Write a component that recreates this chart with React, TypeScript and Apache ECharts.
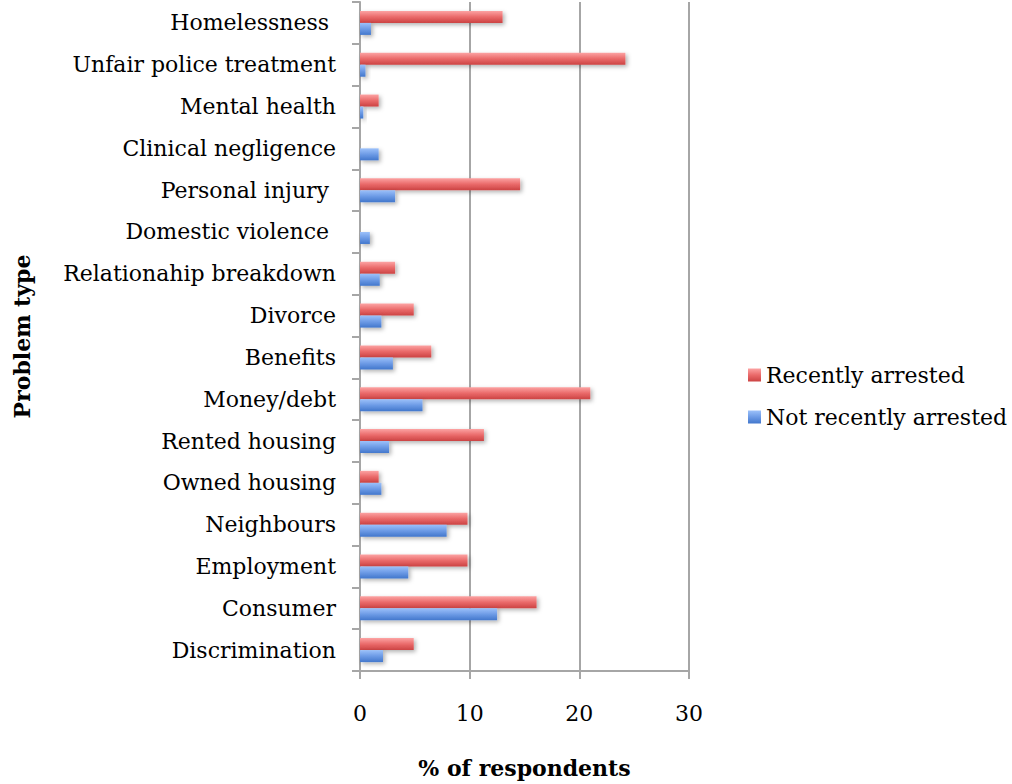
import React, { useEffect, useRef } from "react";
import * as echarts from "echarts";

const categories = [
  "Homelessness ",
  "Unfair police treatment",
  "Mental health",
  "Clinical negligence",
  "Personal injury ",
  "Domestic violence ",
  "Relationahip breakdown",
  "Divorce",
  "Benefits",
  "Money/debt",
  "Rented housing",
  "Owned housing",
  "Neighbours",
  "Employment",
  "Consumer",
  "Discrimination",
];
const recentlyArrested = [13, 24.2, 1.7, 0, 14.6, 0, 3.2, 4.9, 6.5, 21, 11.3, 1.7, 9.8, 9.8, 16.1, 4.9];
const notRecentlyArrested = [1.0, 0.5, 0.3, 1.7, 3.2, 0.9, 1.8, 1.95, 3.0, 5.7, 2.65, 1.95, 7.9, 4.4, 12.5, 2.1];
const xTicks = [0, 10, 20, 30];

const FONT = "DejaVu Serif";
const FS = 22;

export default function App() {
  const ref = useRef<HTMLDivElement>(null);
  useEffect(() => {
    if (!ref.current) return;
    const chart = echarts.init(ref.current, undefined, { renderer: "svg" });
    const redGrad = new echarts.graphic.LinearGradient(0, 0, 0, 1, [
      { offset: 0, color: "#fca3a3" },
      { offset: 0.5, color: "#ea6a6a" },
      { offset: 1, color: "#cc4343" },
    ]);
    const blueGrad = new echarts.graphic.LinearGradient(0, 0, 0, 1, [
      { offset: 0, color: "#9cc1fa" },
      { offset: 0.5, color: "#6d9be6" },
      { offset: 1, color: "#4277cc" },
    ]);
    chart.setOption({
      animation: false,
      backgroundColor: "#ffffff",
      grid: { left: 360, top: 2, right: 323, bottom: 109, containLabel: false },
      legend: {
        orient: "vertical",
        left: 743,
        top: 359,
        itemWidth: 13,
        itemHeight: 13,
        itemGap: 20,
        icon: "rect",
        textStyle: { fontFamily: FONT, fontSize: FS, color: "#000" },
        data: ["Recently arrested", "Not recently arrested"],
      },
      xAxis: {
        type: "value",
        min: 0,
        max: 30,
        interval: 10,
        name: "% of respondents",
        nameLocation: "middle",
        nameGap: 86,
        nameTextStyle: { fontFamily: FONT, fontSize: FS, fontWeight: "bold", color: "#000" },
        axisLine: { show: true, lineStyle: { color: "#a6a6a6", width: 2 } },
        axisTick: { show: true, length: 8, lineStyle: { color: "#a6a6a6", width: 2 } },
        axisLabel: {
          fontFamily: FONT,
          fontSize: FS,
          color: "#000",
          margin: 31,
          formatter: (v: number) => (xTicks.includes(v) ? String(v) : ""),
        },
        splitLine: { show: true, lineStyle: { color: "#a6a6a6", width: 2 } },
      },
      yAxis: {
        type: "category",
        inverse: true,
        data: categories,
        name: "Problem type",
        nameLocation: "middle",
        nameGap: 327,
        nameRotate: 90,
        nameTextStyle: { fontFamily: FONT, fontSize: FS, fontWeight: "bold", color: "#000" },
        axisLine: { show: true, lineStyle: { color: "#a6a6a6", width: 2 } },
        axisTick: { show: true, length: 8, lineStyle: { color: "#a6a6a6", width: 2 } },
        axisLabel: { fontFamily: FONT, fontSize: FS, color: "#000", margin: 24 },
        splitLine: { show: false },
      },
      series: [
        {
          name: "Recently arrested",
          type: "bar",
          data: recentlyArrested,
          barWidth: 12,
          barGap: "0%",
          itemStyle: {
            color: redGrad,
            shadowColor: "rgba(0,0,0,0.3)",
            shadowBlur: 4,
            shadowOffsetX: 2,
            shadowOffsetY: 2,
          },
        },
        {
          name: "Not recently arrested",
          type: "bar",
          data: notRecentlyArrested,
          barWidth: 12,
          barGap: "0%",
          itemStyle: {
            color: blueGrad,
            shadowColor: "rgba(0,0,0,0.3)",
            shadowBlur: 4,
            shadowOffsetX: 2,
            shadowOffsetY: 2,
          },
        },
      ],
    });
    return () => chart.dispose();
  }, []);
  return (
    <div
      ref={ref}
      style={{ position: "fixed", left: 0, top: 0, width: 1012, height: 784 }}
    />
  );
}
